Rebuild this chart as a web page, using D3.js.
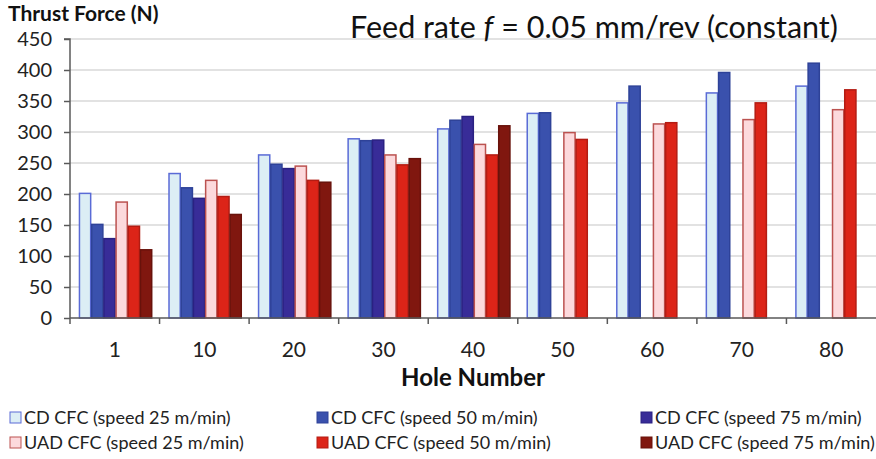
<!DOCTYPE html>
<html><head><meta charset="utf-8">
<script src="https://cdn.jsdelivr.net/npm/d3@7"></script>
<style>body{margin:0;background:#fff}svg{display:block}text{font-family:Lato,"Open Sans",sans-serif}</style>
</head><body>
<svg id="c" width="876" height="459"></svg>
<script>
const categories = ["1","10","20","30","40","50","60","70","80"];
const seriesNames = ["CD CFC (speed 25 m/min)","CD CFC (speed 50 m/min)","CD CFC (speed 75 m/min)",
                     "UAD CFC (speed 25 m/min)","UAD CFC (speed 50 m/min)","UAD CFC (speed 75 m/min)"];
const cd25  = [201, 233, 263, 289, 305, 330, 347, 363, 374];
const cd50  = [151, 210, 248, 286, 319, 331, 374, 396, 411];
const cd75  = [128, 193, 241, 287, 325, null, null, null, null];
const uad25 = [187, 222, 245, 263, 280, 299, 313, 320, 336];
const uad50 = [148, 196, 222, 247, 263, 288, 315, 347, 368];
const uad75 = [110, 167, 219, 257, 310, null, null, null, null];
const yTicks = [0,50,100,150,200,250,300,350,400,450];

const seriesValues = [cd25, cd50, cd75, uad25, uad50, uad75];
const fills   = ["#dceef5","#3a51ad","#382c98","#fcd9dc","#dc2418","#80170f"];
const strokes = ["#5a6bd6","#2e4298","#2a2182","#bb5250","#b31c13","#68120b"];

const svg = d3.select("#c");
const L = 70, R = 876, T = 39, B = 318;
const x0 = d3.scaleBand().domain(categories).range([L, R]).padding(0);
const bw = x0.bandwidth();
const x1 = d3.scaleBand().domain(d3.range(6)).range([bw*0.1, bw*0.918]).padding(0);
const y = d3.scaleLinear().domain([0, 450]).range([B, T]);

// gridlines
svg.append("g").selectAll("line").data(yTicks.filter(d=>d>0)).join("line")
  .attr("x1", L).attr("x2", R).attr("y1", d=>y(d)).attr("y2", d=>y(d))
  .attr("stroke", "#d9d9d9").attr("stroke-width", 1.5);

// bars
const groups = svg.append("g").selectAll("g").data(categories).join("g")
  .attr("transform", d => `translate(${x0(d)},0)`);
groups.selectAll("rect").data((d,i) => seriesValues.map((s,k)=>({k, v:s[i]})).filter(o=>o.v!=null))
  .join("rect")
  .attr("x", o => x1(o.k)+0.5).attr("width", x1.bandwidth()-1)
  .attr("y", o => y(o.v)).attr("height", o => B - y(o.v))
  .attr("fill", o => fills[o.k]).attr("stroke", o => strokes[o.k]).attr("stroke-width", 1.5);

// y axis
const yAxis = d3.axisLeft(y).tickValues(yTicks).tickSize(6).tickPadding(12);
const gy = svg.append("g").attr("transform", `translate(${L},0)`).call(yAxis);
gy.select(".domain").attr("stroke", "#595959").attr("stroke-width", 1.5).attr("d", `M-6,${T}H0V${B}`);
gy.selectAll(".tick line").attr("stroke", "#595959").attr("stroke-width", 1.5);
gy.selectAll(".tick text").attr("font-size", 20).attr("fill", "#222").attr("font-family", "Lato, sans-serif");

// x axis
const gx = svg.append("g").attr("transform", `translate(0,${B})`);
gx.append("line").attr("x1", L).attr("x2", R).attr("y1", 0).attr("y2", 0).attr("stroke", "#595959").attr("stroke-width", 1.5);
gx.selectAll("line.t").data(categories).join("line").attr("class","t")
  .attr("x1", d=>x0(d)).attr("x2", d=>x0(d)).attr("y1", 0).attr("y2", 6)
  .attr("stroke", "#595959").attr("stroke-width", 1.5);
gx.selectAll("text").data(categories).join("text")
  .attr("x", d => x0(d) + bw/2).attr("y", 39).attr("text-anchor", "middle")
  .attr("font-size", 21).attr("fill", "#222").text(d=>d);

// titles
svg.append("text").attr("x", 8).attr("y", 21).attr("font-size", 21).attr("font-weight", "bold").attr("fill", "#111").text("Thrust Force (N)");
const t = svg.append("text").attr("x", 350).attr("y", 38).attr("font-size", 30.5).attr("fill", "#111");
t.append("tspan").text("Feed rate ");
t.append("tspan").attr("font-style", "italic").text("f");
t.append("tspan").text(" = 0.05 mm/rev (constant)");
svg.append("text").attr("x", (L+R)/2).attr("y", 386).attr("text-anchor", "middle").attr("font-size", 24).attr("font-weight", "bold").attr("fill", "#111").text("Hole Number");

// legend
const colX = [10, 317, 641];
const rowY = [418, 443];
const leg = svg.append("g").selectAll("g").data(seriesNames).join("g")
  .attr("transform", (d,i) => `translate(${colX[i%3]},${rowY[Math.floor(i/3)]})`);
leg.append("rect").attr("x", 0).attr("y", -6).attr("width", 11).attr("height", 11)
  .attr("fill", (d,i)=>fills[i]).attr("stroke", (d,i)=>strokes[i]).attr("stroke-width", 1);
leg.append("text").attr("x", 14).attr("y", 6).attr("font-size", 18).attr("fill", "#222").text(d=>d);
</script>
</body></html>
